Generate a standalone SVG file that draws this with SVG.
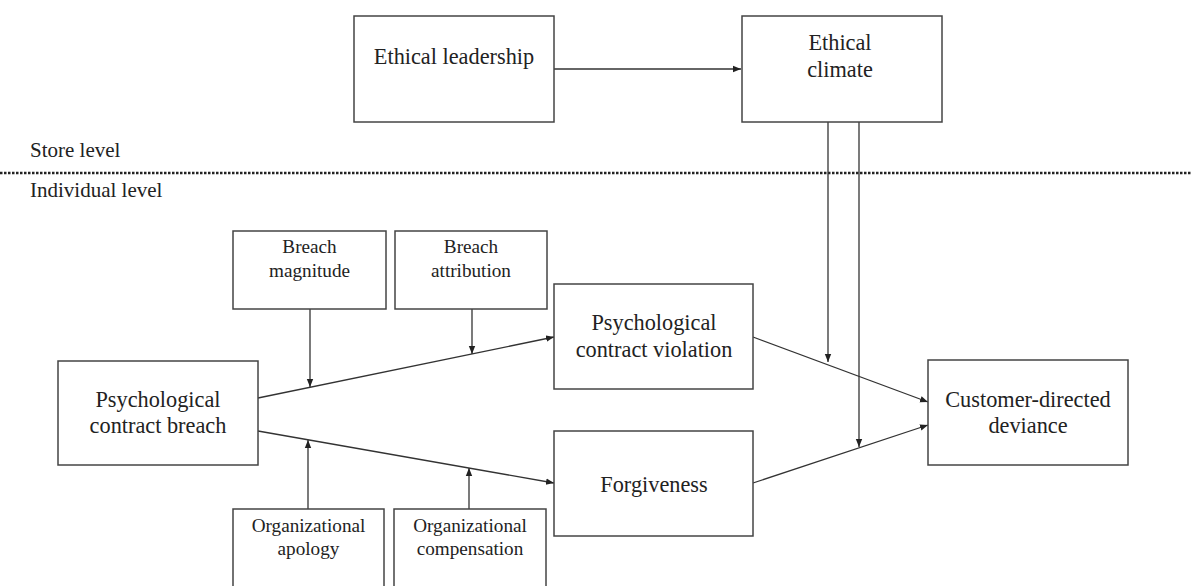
<svg xmlns="http://www.w3.org/2000/svg" width="1192" height="586" viewBox="0 0 1192 586">
  <defs>
    <marker id="arr" markerUnits="userSpaceOnUse" markerWidth="8" markerHeight="8" viewBox="0 0 8 8" refX="8" refY="4" orient="auto">
      <path d="M0,0.8 L8,4 L0,7.2 Z" fill="#222"/>
    </marker>
    <style>
      .box { fill: #fff; stroke: #444; stroke-width: 1.5; }
      .t { font-family: "Liberation Serif", "Times New Roman", serif; fill: #222; text-anchor: middle; }
      .big { font-size: 22.3px; }
      .small { font-size: 19.2px; }
      .lvl { font-family: "Liberation Serif", "Times New Roman", serif; fill: #222; font-size: 21px; }
      .c { fill: none; stroke: #333; stroke-width: 1.3; }
      .ca { fill: none; stroke: #333; stroke-width: 1.3; marker-end: url(#arr); }
    </style>
  </defs>
  <rect width="1192" height="586" fill="#fff"/>

  <g id="levels">
    <text class="lvl" x="30" y="157">Store level</text>
    <line x1="0" y1="173" x2="1192" y2="173" stroke="#222" stroke-width="2.5" stroke-dasharray="2.5 1.5"/>
    <text class="lvl" x="30" y="197">Individual level</text>
  </g>

  <g id="connectors">
    <line class="ca" x1="554" y1="69" x2="741" y2="69"/>
    <line class="ca" x1="828" y1="122" x2="828" y2="362"/>
    <line class="ca" x1="859" y1="122" x2="859" y2="447"/>
    <line class="ca" x1="258" y1="398" x2="554" y2="337"/>
    <line class="ca" x1="310" y1="309" x2="310" y2="387"/>
    <line class="ca" x1="472" y1="309" x2="472" y2="354"/>
    <line class="ca" x1="258" y1="431" x2="554" y2="483"/>
    <line class="ca" x1="308" y1="509" x2="308" y2="440"/>
    <line class="ca" x1="469" y1="509" x2="469" y2="468"/>
    <line class="ca" x1="753" y1="337" x2="928" y2="402"/>
    <line class="ca" x1="753" y1="483" x2="928" y2="425"/>
  </g>

  <g id="ethical-leadership">
    <rect class="box" x="354" y="16" width="200" height="106"/>
    <text class="t big" x="454" y="64">Ethical leadership</text>
  </g>

  <g id="ethical-climate">
    <rect class="box" x="742" y="16" width="200" height="106"/>
    <text class="t big" x="840" y="50">Ethical</text>
    <text class="t big" x="840" y="77">climate</text>
  </g>

  <g id="breach-magnitude">
    <rect class="box" x="233" y="231" width="153" height="78"/>
    <text class="t small" x="309.5" y="253">Breach</text>
    <text class="t small" x="309.5" y="277">magnitude</text>
  </g>

  <g id="breach-attribution">
    <rect class="box" x="395" y="231" width="152" height="78"/>
    <text class="t small" x="471" y="253">Breach</text>
    <text class="t small" x="471" y="277">attribution</text>
  </g>

  <g id="psychological-contract-breach">
    <rect class="box" x="58" y="361" width="200" height="104"/>
    <text class="t big" x="158" y="407">Psychological</text>
    <text class="t big" x="158" y="433">contract breach</text>
  </g>

  <g id="psychological-contract-violation">
    <rect class="box" x="554" y="284" width="199" height="105"/>
    <text class="t big" x="654" y="330">Psychological</text>
    <text class="t big" x="654" y="357">contract violation</text>
  </g>

  <g id="forgiveness">
    <rect class="box" x="554" y="431" width="199" height="105"/>
    <text class="t big" x="654" y="492">Forgiveness</text>
  </g>

  <g id="customer-directed-deviance">
    <rect class="box" x="928" y="360" width="200" height="105"/>
    <text class="t big" x="1028" y="407">Customer-directed</text>
    <text class="t big" x="1028" y="433">deviance</text>
  </g>

  <g id="organizational-apology">
    <rect class="box" x="233" y="509" width="151" height="90"/>
    <text class="t small" x="308.5" y="532">Organizational</text>
    <text class="t small" x="308.5" y="555">apology</text>
  </g>

  <g id="organizational-compensation">
    <rect class="box" x="394" y="509" width="152" height="90"/>
    <text class="t small" x="470" y="532">Organizational</text>
    <text class="t small" x="470" y="555">compensation</text>
  </g>
</svg>
